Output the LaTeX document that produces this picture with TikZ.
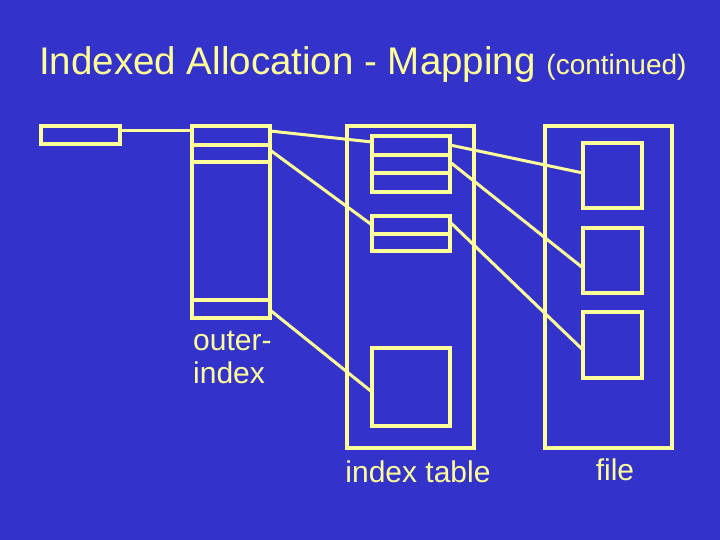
\documentclass[tikz,border=0pt]{standalone}
\usepackage{fontspec}
\setmainfont{Liberation Sans}
\definecolor{bg}{HTML}{3333CC}
\definecolor{fg}{HTML}{FFFF99}
\begin{document}
\begin{tikzpicture}[x=1pt,y=-1pt,
  box/.style={draw=fg,line width=3.5pt},
  link/.style={draw=fg,line width=3pt},
  lbl/.style={text=fg,font=\fontsize{30}{33}\selectfont,inner sep=0pt}]
\fill[bg] (0,0) rectangle (720,540);
\useasboundingbox (0,0) rectangle (720,540);
\node[text=fg,anchor=base west,inner sep=0pt] (title) at (39,75) {\fontsize{38.5}{44}\selectfont Indexed Allocation - Mapping \fontsize{28}{32}\selectfont(continued)};
% rectangles
\draw[box] (41,126) rectangle (120,144);
\coordinate (p) at (120,131);
\draw[box] (192,126) rectangle (270,318);
\draw[box] (192,145) -- (270,145) (192,162) -- (270,162) (192,300) -- (270,300);
\coordinate (o1) at (270,131); \coordinate (o2) at (270,150); \coordinate (o3) at (270,310);
\coordinate (o0) at (192,131);
\draw[box] (347,126) rectangle (474,448);
\draw[box] (372,136) rectangle (450,192);
\draw[box] (372,155) -- (450,155) (372,173) -- (450,173);
\draw[box] (372,216) rectangle (450,251);
\draw[box] (372,234) -- (450,234);
\draw[box] (372,348) rectangle (450,426);
\coordinate (i1) at (372,142); \coordinate (i2) at (372,225); \coordinate (i3) at (372,392);
\coordinate (u1) at (450,145); \coordinate (u2) at (450,162); \coordinate (m1) at (450,222);
\draw[box] (545,126) rectangle (672,448);
\draw[box] (583,143) rectangle (642,208);
\draw[box] (583,228) rectangle (642,293);
\draw[box] (583,312) rectangle (642,378);
\coordinate (f1) at (583,173); \coordinate (f2) at (583,268); \coordinate (f3) at (583,350);
\draw[link] (p) -- (o0);
\draw[link] (o1) -- (i1);
\draw[link] (o2) -- (i2);
\draw[link] (o3) -- (i3);
\draw[link] (u1) -- (f1);
\draw[link] (u2) -- (f2);
\draw[link] (m1) -- (f3);
\node[lbl,anchor=base west] (outer1) at (193,350) {outer-};
\node[lbl,anchor=base west] (outer2) at (193,383) {index};
\node[lbl,anchor=base] (it) at (418,482) {index table};
\node[lbl,anchor=base] (file) at (615,480) {file};
\end{tikzpicture}
\end{document}
